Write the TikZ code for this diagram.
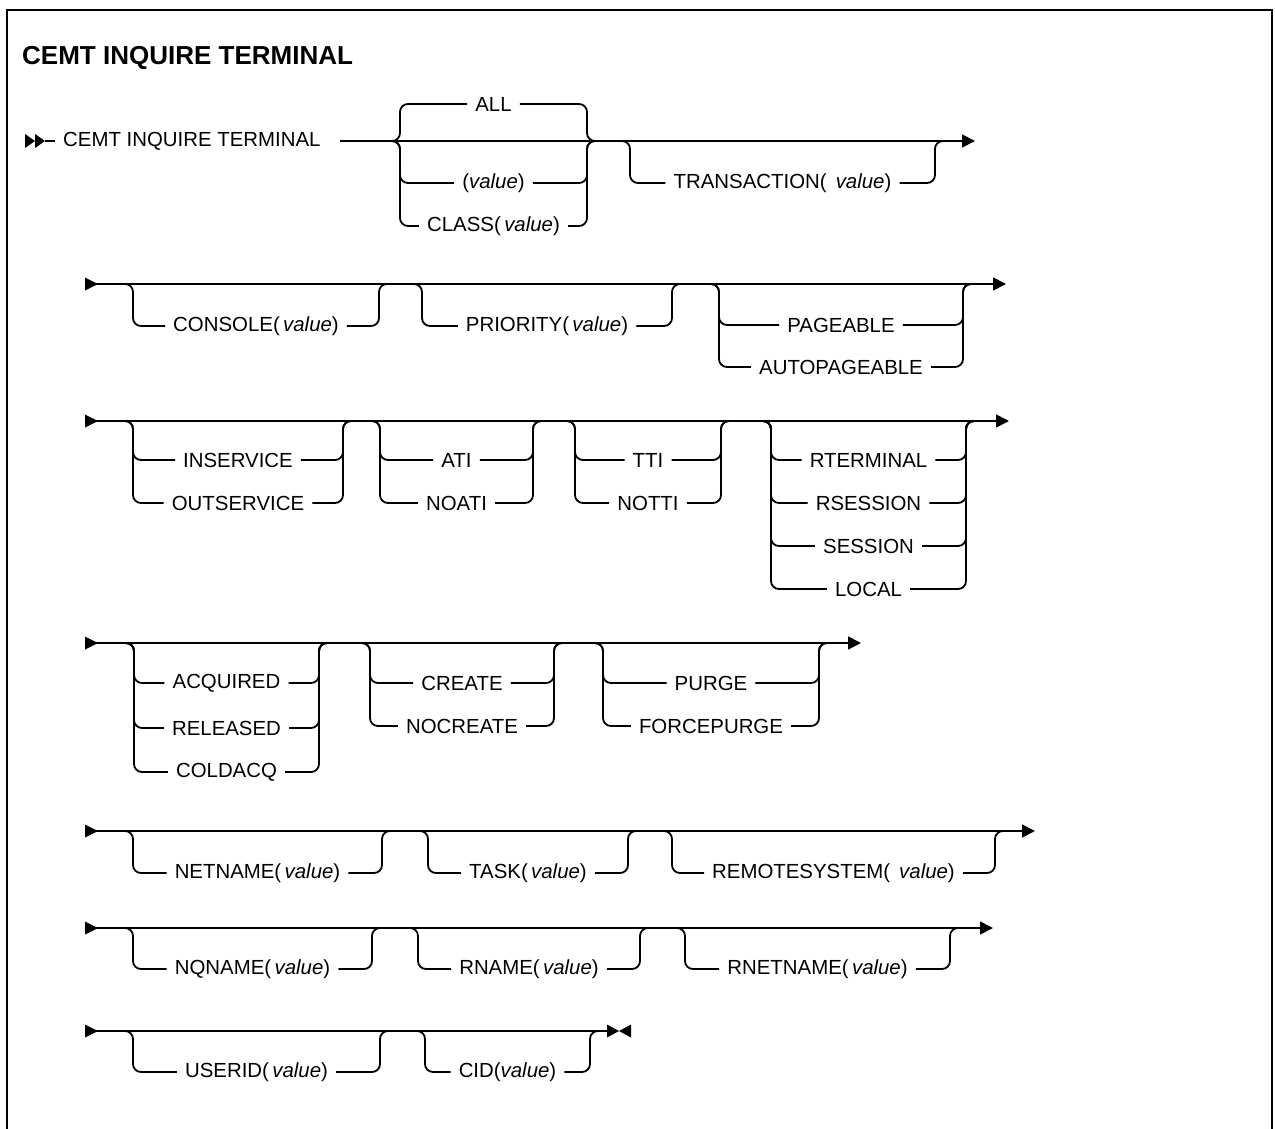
\documentclass[tikz,border=0pt]{standalone}
\usepackage{fontspec}
\setmainfont{Liberation Sans}
\usetikzlibrary{arrows.meta}
\newcommand\lbl{\fontsize{20.4}{24}\selectfont}
\newcommand\vv{\textit{value}}
\tikzset{
  rail/.style={line width=1.8pt, rounded corners=8pt},
  mainln/.style={line width=1.8pt},
  endarrow/.style={line width=1.8pt, -{Triangle[length=13pt,width=13pt]}},
  opt/.style={font=\lbl, inner xsep=8pt, inner ysep=2pt, anchor=center},
}
\newcommand\optgrp[4]{%
  \foreach \yy/\nm/\txt in {#4}{%
    \node[opt] (\nm) at ({(#1+#2)/2},\yy) {\txt};
    \coordinate (\nm-a) at (#1-10,#3);
    \coordinate (\nm-b) at (#2+10,#3);
    \draw[rail] (\nm-a) -- (#1,#3) -- (#1,\yy) -- (\nm.west);
    \draw[rail] (\nm.east) -- (#2,\yy) -- (#2,#3) -- (\nm-b);
  }}
\newcommand\startmark[1]{\fill (85,#1-6.5) -- (98,#1) -- (85,#1+6.5) -- cycle;}
\begin{document}
\begin{tikzpicture}[x=1pt,y=-1pt]
\useasboundingbox (0,0) rectangle (1275,1129);
% frame
\draw[line width=2.5pt] (7,1129) -- (7,10) -- (1272,10) -- (1272,1129);
% title
\node[anchor=west, font=\fontsize{26}{30}\selectfont\bfseries, inner sep=0pt] (title) at (22,58) {CEMT INQUIRE TERMINAL};

% ---------- row 1 ----------
\fill (25,134) -- (35,141) -- (25,148) -- cycle;
\fill (35,134) -- (45,141) -- (35,148) -- cycle;
\coordinate (r1a) at (45,141);
\node[anchor=west, font=\lbl, inner xsep=0pt] (cmd) at (63,141) {CEMT INQUIRE TERMINAL};
\coordinate (r1b) at (55,141);
\draw[mainln] (r1a) -- (r1b);
\coordinate (r1s) at (340,141);
\coordinate (r1e) at (975,141);
\draw[endarrow] (r1s) -- (r1e);
\optgrp{400}{587}{141}{104/all/ALL, 183/val/{(\vv)}, 226/cls/{CLASS(\,\vv)}}
\optgrp{630}{935}{141}{183/trn/{TRANSACTION(\, \vv)}}

% ---------- row 2 ----------
\startmark{284}
\coordinate (r2s) at (85,284);
\coordinate (r2e) at (1006,284);
\draw[endarrow] (r2s) -- (r2e);
\optgrp{133}{379}{284}{326/con/{CONSOLE(\,\vv)}}
\optgrp{422}{672}{284}{326/pri/{PRIORITY(\,\vv)}}
\optgrp{719}{963}{284}{325/pag/PAGEABLE, 367/apg/AUTOPAGEABLE}

% ---------- row 3 ----------
\startmark{421}
\coordinate (r3s) at (85,421);
\coordinate (r3e) at (1009,421);
\draw[endarrow] (r3s) -- (r3e);
\optgrp{133}{343}{421}{460/ins/INSERVICE, 503/outs/OUTSERVICE}
\optgrp{380}{533}{421}{460/ati/ATI, 503/noati/NOATI}
\optgrp{575}{721}{421}{460/tti/TTI, 503/notti/NOTTI}
\optgrp{771}{966}{421}{460/rterm/RTERMINAL, 503/rsess/RSESSION, 546/sess/SESSION, 589/loc/LOCAL}

% ---------- row 4 ----------
\startmark{643}
\coordinate (r4s) at (85,643);
\coordinate (r4e) at (861,643);
\draw[endarrow] (r4s) -- (r4e);
\optgrp{134}{319}{643}{683/acq/ACQUIRED, 728/rel/RELEASED, 772/cold/COLDACQ}
\optgrp{370}{554}{643}{683/cre/CREATE, 726/nocre/NOCREATE}
\optgrp{603}{819}{643}{683/pur/PURGE, 726/fpur/FORCEPURGE}

% ---------- row 5 ----------
\startmark{831}
\coordinate (r5s) at (85,831);
\coordinate (r5e) at (1035,831);
\draw[endarrow] (r5s) -- (r5e);
\optgrp{133}{382}{831}{873/net/{NETNAME(\,\vv)}}
\optgrp{428}{628}{831}{873/task/{TASK(\,\vv)}}
\optgrp{672}{995}{831}{873/rsys/{REMOTESYSTEM(\, \vv)}}

% ---------- row 6 ----------
\startmark{928}
\coordinate (r6s) at (85,928);
\coordinate (r6e) at (993,928);
\draw[endarrow] (r6s) -- (r6e);
\optgrp{133}{372}{928}{969/nq/{NQNAME(\,\vv)}}
\optgrp{418}{640}{928}{969/rn/{RNAME(\,\vv)}}
\optgrp{685}{950}{928}{969/rnet/{RNETNAME(\,\vv)}}

% ---------- row 7 ----------
\startmark{1031}
\coordinate (r7s) at (85,1031);
\coordinate (r7e) at (608,1031);
\draw[mainln] (r7s) -- (r7e);
\optgrp{133}{380}{1031}{1072/uid/{USERID(\,\vv)}}
\optgrp{425}{590}{1031}{1072/cid/{CID(\vv)}}
\fill (607,1024.5) -- (619,1031) -- (607,1037.5) -- cycle;
\fill (631,1024.5) -- (619,1031) -- (631,1037.5) -- cycle;
\end{tikzpicture}
\end{document}
